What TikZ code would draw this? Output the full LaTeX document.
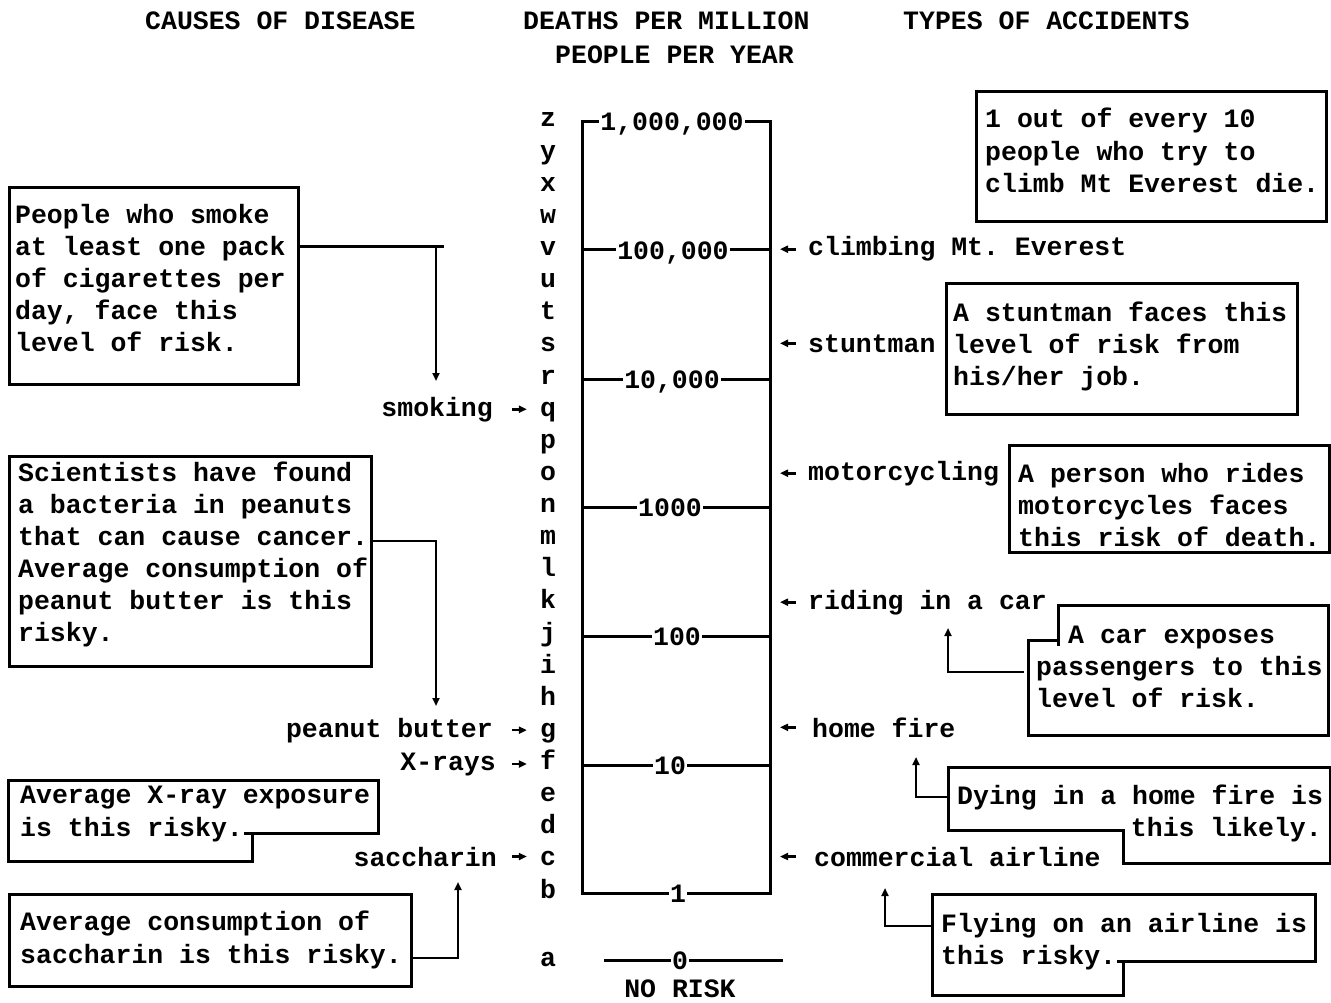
\documentclass[tikz,border=0pt]{standalone}
\usepackage{fontspec}
\setmainfont{Liberation Mono}
\usetikzlibrary{arrows.meta}
\newcommand{\fsz}{\fontsize{26.5}{32.1}\selectfont\bfseries\frenchspacing}
\begin{document}
\begin{tikzpicture}[x=1pt,y=-1pt,
  txt/.style={inner sep=0pt, font=\fsz, align=left, anchor=base west},
  bx/.style={draw, line width=3pt, inner sep=0pt, anchor=north west},
  ln/.style={line width=3pt},
  tip/.style={-{Triangle[length=8pt,width=7pt]}, line width=2.6pt},
  lbl/.style={inner sep=0pt, font=\fsz},
  num/.style={inner sep=1.5pt, font=\fsz, fill=white, anchor=base},
]
\useasboundingbox (0,0) rectangle (1331,1003);

% headers
\node[lbl, anchor=base west] (h1) at (145,30) {CAUSES OF DISEASE};
\node[lbl, anchor=base west] (h2) at (523,30) {DEATHS PER MILLION};
\node[lbl, anchor=base west] (h3) at (555,64) {PEOPLE PER YEAR};
\node[lbl, anchor=base west] (h4) at (903,30) {TYPES OF ACCIDENTS};

% letter column
\foreach \l [count=\i] in {b,c,d,e,f,g,h,i,j,k,l,m,n,o,p,q,r,s,t,u,v,w,x,y,z}
  \node[lbl, anchor=base] (L\l) at (548,{898-(\i-1)*32.125}) {\l};
\node[lbl, anchor=base] (La) at (548,966) {a};

% scale
\draw[ln] (582,122) -- (582,893) -- (770,893) -- (770,122) -- cycle;
\foreach \yy in {250,379,507,636,765}
  \draw[ln] (582,\yy) -- (770,\yy);
\node[num] (N6) at (672,131) {1,000,000};
\node[num] (N5) at (673,259) {100,000};
\node[num] (N4) at (672,388) {10,000};
\node[num] (N3) at (670,516) {1000};
\node[num] (N2) at (677,645) {100};
\node[num] (N1) at (670,774) {10};
\node[num] (N0) at (678,902) {1};
\draw[ln] (604,960) -- (783,960);
\node[num] (Nz) at (680,969) {0};
\node[lbl, anchor=base] (norisk) at (680,997) {NO RISK};
\coordinate (SR) at (770,0);

% right labels
\node[lbl, anchor=base west] (climb) at (808,256) {climbing Mt. Everest};
\node[lbl, anchor=base west] (stunt) at (808,352) {stuntman};
\node[lbl, anchor=base west] (moto) at (808,480) {motorcycling};
\node[lbl, anchor=base west] (car) at (808,609) {riding in a car};
\node[lbl, anchor=base west] (fire) at (812,737) {home fire};
\node[lbl, anchor=base west] (air) at (814,866) {commercial airline};
\foreach \n/\s in {climb/12,stunt/12,moto/12,car/12,fire/16,air/18}
  \draw[tip, shorten <=\s pt, shorten >=10pt] (\n.west) -- (\n.west -| SR);

% left labels
\node[lbl, anchor=base east] (smoke) at (493,416) {smoking};
\node[lbl, anchor=base east] (pb) at (493,737) {peanut butter};
\node[lbl, anchor=base east] (xr) at (496,770) {X-rays};
\node[lbl, anchor=base east] (sac) at (497,866) {saccharin};
\draw[tip, shorten <=19pt, shorten >=13pt] (smoke.east) -- (smoke.east -| Lq.west);
\draw[tip, shorten <=19pt, shorten >=13pt] (pb.east) -- (pb.east -| Lg.west);
\draw[tip, shorten <=16pt, shorten >=13pt] (xr.east) -- (xr.east -| Lf.west);
\draw[tip, shorten <=15pt, shorten >=13pt] (sac.east) -- (sac.east -| Lc.west);

% left boxes (text nodes are placed at the baseline of their last line)
\node[bx, minimum width=289pt, minimum height=197pt] (B1) at (8,186) {};
\node[txt] (T1) at (15,351.4) {People who smoke\\at least one pack\\of cigarettes per\\day, face this\\level of risk.};
\coordinate (c1) at (436,247);
\coordinate (c1t) at (436,381);
\draw[ln] (B1.east |- c1) -- ([xshift=8pt]c1);
\draw[tip] (c1) -- (c1t);

\node[bx, minimum width=362pt, minimum height=210pt] (B2) at (8,455) {};
\node[txt] (T2) at (18,641.5) {Scientists have found\\a bacteria in peanuts\\that can cause cancer.\\Average consumption of\\peanut butter is this\\risky.};
\coordinate (c2) at (436,541);
\coordinate (c2t) at (436,706);
\draw[tip] (B2.east |- c2) -- (c2) -- (c2t);

\draw[ln] (8,780) -- (378,780) -- (378,833) -- (252,833) -- (252,861) -- (8,861) -- cycle;
\draw[ln] (252,833) -- (244,833);
\node[txt] (T3) at (20,836) {Average X-ray exposure\\is this risky.};

\node[bx, minimum width=402pt, minimum height=92pt] (B4) at (8,893) {};
\node[txt] (T4) at (20,963) {Average consumption of\\saccharin is this risky.};
\coordinate (c4) at (458,958);
\coordinate (c4t) at (458,882);
\draw[tip] (B4.east |- c4) -- (c4) -- (c4t);

% right boxes
\node[bx, minimum width=350pt, minimum height=130pt] (R1) at (975,90) {};
\node[txt] (U1) at (985,192.2) {1 out of every 10\\people who try to\\climb Mt Everest die.};

\node[bx, minimum width=351pt, minimum height=131pt] (R2) at (945,282) {};
\node[txt] (U2) at (953,385.2) {A stuntman faces this\\level of risk from\\his/her job.};

\node[bx, minimum width=320pt, minimum height=107pt] (R3) at (1008,444) {};
\node[txt] (U3) at (1018,546.2) {A person who rides\\motorcycles faces\\this risk of death.};

\draw[ln] (1058,605) -- (1328,605) -- (1328,735) -- (1028,735) -- (1028,640) -- (1058,640) -- cycle;
\draw[ln] (1058,640) -- (1058,646);
\coordinate (R4w) at (1024,672);
\node[txt] (U4a) at (1068,643) {A car exposes};
\node[txt] (U4b) at (1036,707.1) {passengers to this\\level of risk.};
\coordinate (c5) at (948,672);
\coordinate (c5t) at (948,628);
\draw[tip] (R4w) -- (c5) -- (c5t);

\draw[ln] (948,767) -- (1330,767) -- (1330,863) -- (1123,863) -- (1123,830) -- (948,830) -- cycle;
\coordinate (R5w) at (948,797);
\node[txt] (U5a) at (957,804) {Dying in a home fire is};
\node[lbl, anchor=base east] (U5b) at (1322,836) {this likely.};
\coordinate (c6) at (916,797);
\coordinate (c6t) at (916,757);
\draw[tip] (R5w) -- (c6) -- (c6t);

\draw[ln] (932,894) -- (1315,894) -- (1315,961) -- (1123,961) -- (1123,995) -- (932,995) -- cycle;
\draw[ln] (1123,961) -- (1117,961);
\coordinate (R6w) at (932,926);
\node[txt] (U6) at (941,964.1) {Flying on an airline is\\this risky.};
\coordinate (c7) at (885,926);
\coordinate (c7t) at (885,888);
\draw[tip] (R6w) -- (c7) -- (c7t);
\end{tikzpicture}
\end{document}
